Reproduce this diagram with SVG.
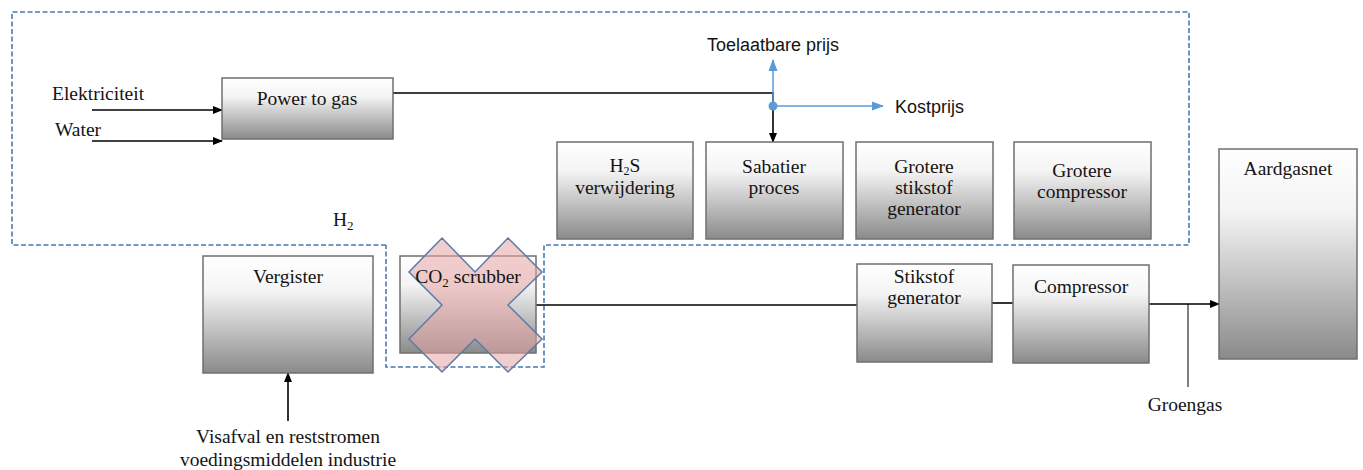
<svg xmlns="http://www.w3.org/2000/svg" width="1363" height="470" viewBox="0 0 1363 470">
<defs>
<linearGradient id="g" x1="0" y1="0" x2="0" y2="1">
<stop offset="0" stop-color="#ffffff"/>
<stop offset="0.3" stop-color="#f4f4f4"/>
<stop offset="1" stop-color="#8a8a8a"/>
</linearGradient>
<marker id="ab" markerWidth="10" markerHeight="10" refX="9" refY="5" orient="auto" markerUnits="userSpaceOnUse">
<path d="M0,1 L10,5 L0,9 Z" fill="#000"/>
</marker>
<marker id="abl" markerWidth="12" markerHeight="10" refX="11" refY="5" orient="auto" markerUnits="userSpaceOnUse">
<path d="M0,0.5 L12,5 L0,9.5 Z" fill="#5b9bd5"/>
</marker>
</defs>
<style>
.box{fill:url(#g);stroke:#6f6f6f;stroke-width:1.5}
.t{font-family:"Liberation Serif","Times New Roman",serif;font-size:19.5px;fill:#141414}
.c{text-anchor:middle}
.s{font-family:"Liberation Sans",Arial,sans-serif;font-size:18px;fill:#141414}
.ln{stroke:#000;stroke-width:1.6;fill:none}
.bl{stroke:#5b9bd5;stroke-width:1.5;fill:none}
.dash{stroke:#4a7ab0;stroke-width:1.6;fill:none;stroke-dasharray:5 2.5}
</style>
<rect width="1363" height="470" fill="#fff"/>
<g id="boundary">
<path class="dash" d="M386,245 L12,245 L12,12 L1189,12 L1189,245 L544,245 L544,367 L386,367 L386,245"/>
</g>
<g id="connectors">
<line class="ln" x1="92" y1="110" x2="222" y2="110" marker-end="url(#ab)"/>
<line class="ln" x1="92" y1="141" x2="222" y2="141" marker-end="url(#ab)"/>
<polyline class="ln" points="393,93 773,93 773,142" marker-end="url(#ab)"/>
<line class="bl" x1="773" y1="106" x2="773" y2="60" marker-end="url(#abl)"/>
<line class="bl" x1="773" y1="106" x2="883" y2="106" marker-end="url(#abl)"/>
<circle cx="773" cy="106" r="4.5" fill="#5b9bd5"/>
<line class="ln" x1="536" y1="305" x2="857" y2="305"/>
<line class="ln" x1="992" y1="303" x2="1013" y2="303"/>
<line class="ln" x1="1149" y1="304" x2="1219" y2="304" marker-end="url(#ab)"/>
<line x1="1188" y1="304" x2="1188" y2="387" stroke="#000" stroke-width="1"/>
<line class="ln" x1="288" y1="421" x2="288" y2="373" marker-end="url(#ab)"/>
</g>
<g id="power-to-gas">
<rect class="box" x="222" y="78" width="171" height="61"/>
<text class="t c" x="307" y="105">Power to gas</text>
</g>
<g id="h2s">
<rect class="box" x="557" y="142" width="136" height="97"/>
<text class="t c" x="625" y="172">H<tspan font-size="12" dy="3">2</tspan><tspan dy="-3">S</tspan></text>
<text class="t c" x="625" y="194">verwijdering</text>
</g>
<g id="sabatier">
<rect class="box" x="706" y="142" width="137" height="97"/>
<text class="t c" x="774" y="173">Sabatier</text>
<text class="t c" x="774" y="194">proces</text>
</g>
<g id="grotere-stikstof">
<rect class="box" x="856" y="142" width="137" height="97"/>
<text class="t c" x="924" y="173">Grotere</text>
<text class="t c" x="924" y="194">stikstof</text>
<text class="t c" x="924" y="215">generator</text>
</g>
<g id="grotere-compressor">
<rect class="box" x="1014" y="142" width="137" height="97"/>
<text class="t c" x="1082" y="177">Grotere</text>
<text class="t c" x="1082" y="198">compressor</text>
</g>
<g id="aardgasnet">
<rect class="box" x="1219" y="149" width="138" height="210"/>
<text class="t c" x="1288" y="175">Aardgasnet</text>
</g>
<g id="stikstof">
<rect class="box" x="857" y="264" width="135" height="98"/>
<text class="t c" x="924" y="283">Stikstof</text>
<text class="t c" x="924" y="304">generator</text>
</g>
<g id="compressor">
<rect class="box" x="1013" y="265" width="136" height="98"/>
<text class="t c" x="1081" y="293">Compressor</text>
</g>
<g id="vergister">
<rect class="box" x="203" y="256" width="170" height="117"/>
<text class="t c" x="288" y="283">Vergister</text>
</g>
<g id="co2-scrubber">
<rect class="box" x="400" y="256" width="136" height="97"/>
<polygon points="442,238 475,272 508,238 542,272 508,305 542,339 508,372 475,339 442,372 409,339 442,305 409,272" fill="#e8a4a4" fill-opacity="0.55" stroke="#5a7ca8" stroke-width="1.5"/>
<text class="t c" x="468" y="283">CO<tspan font-size="13" dy="4">2</tspan><tspan dy="-4"> scrubber</tspan></text>
</g>
<g id="labels">
<text class="t" x="52" y="100">Elektriciteit</text>
<text class="t" x="55" y="136">Water</text>
<text class="s" x="707" y="51">Toelaatbare prijs</text>
<text class="s" x="895" y="113">Kostprijs</text>
<text class="t" x="333" y="226">H<tspan font-size="13" dy="4">2</tspan></text>
<text class="t c" x="1185" y="411">Groengas</text>
<text class="t c" x="288" y="443">Visafval en reststromen</text>
<text class="t c" x="288" y="466">voedingsmiddelen industrie</text>
</g>
</svg>
